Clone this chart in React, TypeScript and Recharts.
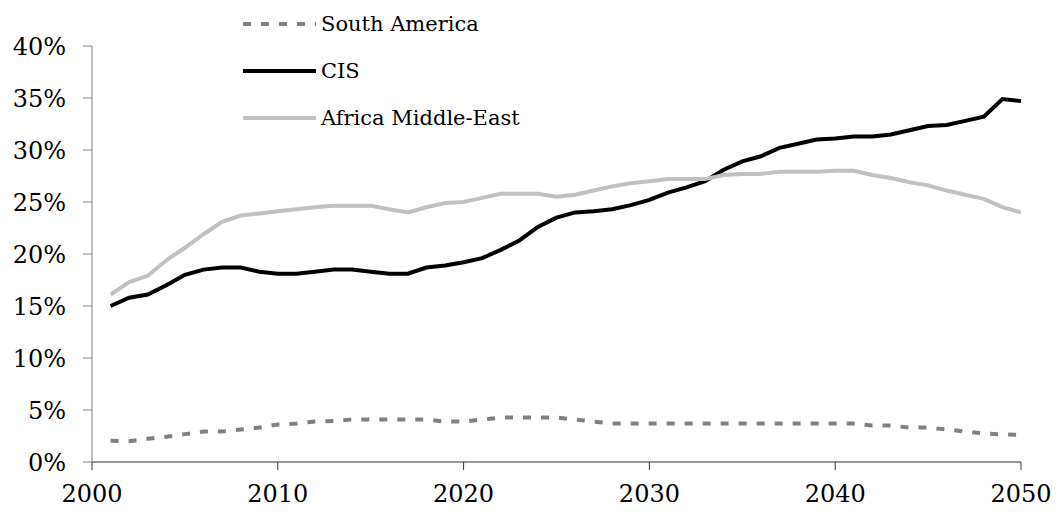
import { LineChart, Line, XAxis, YAxis, Legend } from "recharts";

const years = [
  2001, 2002, 2003, 2004, 2005, 2006, 2007, 2008, 2009, 2010,
  2011, 2012, 2013, 2014, 2015, 2016, 2017, 2018, 2019, 2020,
  2021, 2022, 2023, 2024, 2025, 2026, 2027, 2028, 2029, 2030,
  2031, 2032, 2033, 2034, 2035, 2036, 2037, 2038, 2039, 2040,
  2041, 2042, 2043, 2044, 2045, 2046, 2047, 2048, 2049, 2050,
];

const southAmerica = [
  2.04, 2.0, 2.23, 2.42, 2.68, 2.93, 2.93, 3.12, 3.31, 3.6,
  3.7, 3.89, 3.95, 4.08, 4.08, 4.08, 4.08, 4.08, 3.89, 3.89,
  4.08, 4.27, 4.27, 4.27, 4.27, 4.08, 3.89, 3.7, 3.7, 3.7,
  3.7, 3.7, 3.7, 3.7, 3.7, 3.7, 3.7, 3.7, 3.7, 3.7,
  3.7, 3.5, 3.5, 3.31, 3.31, 3.12, 2.93, 2.74, 2.65, 2.6,
];

const cis = [
  15.0, 15.8, 16.1, 17.0, 18.0, 18.5, 18.7, 18.7, 18.3, 18.1,
  18.1, 18.3, 18.5, 18.5, 18.3, 18.1, 18.1, 18.7, 18.9, 19.2,
  19.6, 20.4, 21.3, 22.6, 23.5, 24.0, 24.1, 24.3, 24.7, 25.2,
  25.9, 26.4, 27.0, 28.1, 28.9, 29.4, 30.2, 30.6, 31.0, 31.1,
  31.3, 31.3, 31.5, 31.9, 32.3, 32.4, 32.8, 33.2, 34.9, 34.7,
];

const africaMiddleEast = [
  16.1, 17.3, 17.9, 19.4, 20.6, 21.9, 23.1, 23.7, 23.9, 24.1,
  24.3, 24.5, 24.65, 24.65, 24.65, 24.3, 24.0, 24.5, 24.9, 25.0,
  25.4, 25.8, 25.8, 25.8, 25.5, 25.7, 26.1, 26.5, 26.8, 27.0,
  27.2, 27.2, 27.2, 27.6, 27.7, 27.7, 27.9, 27.9, 27.9, 28.0,
  28.0, 27.6, 27.3, 26.9, 26.6, 26.1, 25.7, 25.3, 24.5, 24.0,
];

const xTicks = [2000, 2010, 2020, 2030, 2040, 2050];
const yTicks = [0, 5, 10, 15, 20, 25, 30, 35, 40];

const data = years.map((year, i) => ({
  year,
  southAmerica: southAmerica[i],
  cis: cis[i],
  africa: africaMiddleEast[i],
}));

const FONT = "'DejaVu Serif', serif";

const legendItems = [
  { key: "southAmerica", label: "South America", color: "#808080", dash: "8 10" },
  { key: "cis", label: "CIS", color: "#000000", dash: undefined },
  { key: "africa", label: "Africa Middle-East", color: "#c0c0c0", dash: undefined },
];

function ChartLegend() {
  return (
    <div style={{ fontFamily: FONT }}>
      {legendItems.map((item) => (
        <div key={item.key} style={{ display: "flex", alignItems: "center", height: 47 }}>
          <svg width={76} height={10} style={{ display: "block" }}>
            <line
              x1={0}
              x2={73}
              y1={5}
              y2={5}
              stroke={item.color}
              strokeWidth={4}
              strokeDasharray={item.dash}
            />
          </svg>
          <span style={{ fontSize: 21, color: "#000", marginLeft: 2 }}>{item.label}</span>
        </div>
      ))}
    </div>
  );
}

export default function App() {
  return (
    <div style={{ position: "absolute", left: 0, top: 0, background: "#fff" }}>
      <LineChart
        width={1059}
        height={521}
        data={data}
        margin={{ top: 46, right: 38, bottom: 0, left: 0 }}
      >
        <XAxis
          dataKey="year"
          type="number"
          domain={[2000, 2050]}
          ticks={xTicks}
          height={59}
          stroke="#333"
          tickSize={8}
          tickMargin={15}
          tick={{ fill: "#000", fontSize: 24, fontFamily: FONT }}
        />
        <YAxis
          domain={[0, 40]}
          ticks={yTicks}
          width={92}
          stroke="#808080"
          tickSize={9}
          tickMargin={17}
          tickFormatter={(v: number) => `${v}%`}
          tick={{ fill: "#000", fontSize: 24, fontFamily: FONT }}
        />
        {/* horizontal + middle + center keeps the legend from taking plot space */}
        <Legend
          layout="horizontal"
          verticalAlign="middle"
          align="center"
          content={() => <ChartLegend />}
          wrapperStyle={{ position: "absolute", left: 243, top: 0, width: "auto" }}
        />
        <Line
          dataKey="southAmerica"
          stroke="#808080"
          strokeWidth={4}
          strokeDasharray="8 10"
          dot={false}
          isAnimationActive={false}
        />
        <Line
          dataKey="cis"
          stroke="#000000"
          strokeWidth={4}
          dot={false}
          isAnimationActive={false}
        />
        <Line
          dataKey="africa"
          stroke="#c0c0c0"
          strokeWidth={4}
          dot={false}
          isAnimationActive={false}
        />
      </LineChart>
    </div>
  );
}
